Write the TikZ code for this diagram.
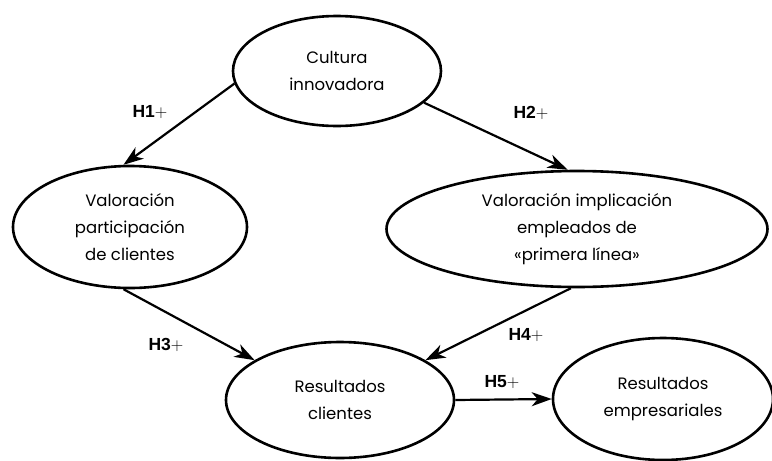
\documentclass[tikz,border=0pt]{standalone}
\usepackage{fontspec}
\setmainfont{Poppins}
\newfontfamily\labelfont{Liberation Sans}
\usetikzlibrary{shapes.geometric,arrows.meta}

\tikzset{
	constructo/.style={ellipse, draw, line width=2.6pt, inner sep=0pt, align=center,
		font=\fontsize{16.5}{27}\selectfont},
	hipotesis/.style={-{Stealth[length=20pt,width=14pt,inset=6pt]}, line width=2.2pt},
	etiqueta/.style={font=\labelfont\fontsize{17.5}{20}\selectfont}
}

\begin{document}
\begin{tikzpicture}[x=1pt, y=-1pt]
		%%%%% START %%%%%
		
		\useasboundingbox (0, 0) rectangle (772, 461);
		
		\node[constructo, minimum width=208pt, minimum height=110pt] (cultura) at (337, 71) {Cultura\\innovadora};
		\node[constructo, minimum width=234pt, minimum height=122pt] (valcli) at (130, 227) {Valoración\\participación\\de clientes};
		\node[constructo, minimum width=381pt, minimum height=116pt] (valemp) at (577, 229) {Valoración implicación\\empleados de\\«primera línea»};
		\node[constructo, minimum width=228pt, minimum height=116pt] (rescli) at (340, 400) {Resultados\\clientes};
		\node[constructo, minimum width=220pt, minimum height=122pt] (resemp) at (663, 399) {Resultados\\empresariales};
		
		\draw[hipotesis] (cultura.187) -- (valcli.96);
		\draw[hipotesis] (cultura.-20) -- (valemp.99);
		\draw[hipotesis] (valcli.-96) -- (rescli.155);
		\draw[hipotesis] (valemp.-96) -- (rescli.25);
		\draw[hipotesis] (rescli.east) -- (resemp.west);
		
		\node[etiqueta] (h1) at (150, 112) {\textbf{H1}$+$};
		\node[etiqueta] (h2) at (531, 113) {\textbf{H2}$+$};
		\node[etiqueta] (h3) at (166, 345) {\textbf{H3}$+$};
		\node[etiqueta] (h4) at (526, 335) {\textbf{H4}$+$};
		\node[etiqueta] (h5) at (502, 382) {\textbf{H5}$+$};
		
		%%%%% END %%%%%
	\end{tikzpicture}
\end{document}
